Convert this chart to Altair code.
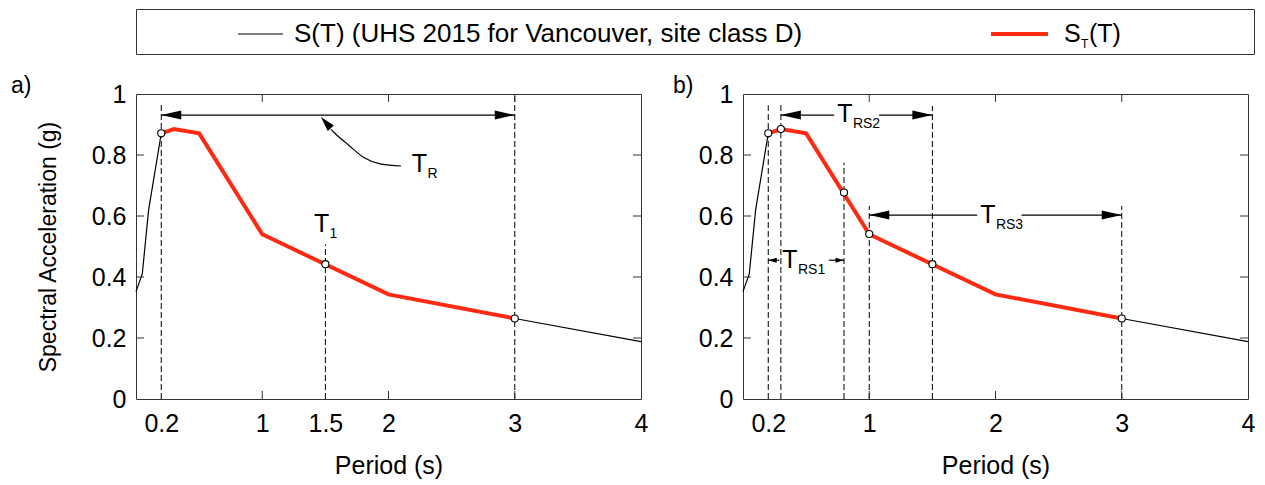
import altair as alt
import pandas as pd

# ---------------- data ----------------
uhs_T = [0.0, 0.05, 0.1, 0.2, 0.3, 0.5, 1.0, 2.0, 3.0, 4.0]
uhs_S = [0.352, 0.411, 0.620, 0.871, 0.885, 0.871, 0.540, 0.343, 0.264, 0.188]
st_T = [0.2, 0.3, 0.5, 1.0, 2.0, 3.0]
st_S = [0.871, 0.885, 0.871, 0.540, 0.343, 0.264]

a_mark_T = [0.2, 1.5, 3.0]
a_mark_S = [0.871, 0.442, 0.264]
a_dash_T = [0.2, 1.5, 3.0]
a_dash_top = [0.966, 0.507, 1.0]

b_mark_T = [0.2, 0.3, 0.8, 1.0, 1.5, 3.0]
b_mark_S = [0.871, 0.885, 0.677, 0.541, 0.442, 0.264]
b_dash_T = [0.2, 0.3, 0.8, 1.0, 1.5, 3.0]
b_dash_top = [0.963, 0.968, 0.775, 0.633, 0.961, 0.633]

a_xticks = [0.2, 1, 1.5, 2, 3, 4]
b_xticks = [0.2, 1, 2, 3, 4]
y_ticks = [0, 0.2, 0.4, 0.6, 0.8, 1]
inner_xticks = [1, 2, 3]
inner_yticks = [0.2, 0.4, 0.6, 0.8]

# arrow shafts (start, end, level)
a_seg_x = [0.2]
a_seg_x2 = [3.0]
a_seg_y = [0.931]
b_seg_x = [0.3, 1.078, 1.0, 2.206, 0.2, 0.682]
b_seg_x2 = [0.722, 1.5, 1.855, 3.0, 0.287, 0.8]
b_seg_y = [0.931, 0.931, 0.603, 0.603, 0.455, 0.455]

# arrow tips (position, pointing direction in degrees, kind)
a_head_T = [0.2, 3.0, 1.465]
a_head_S = [0.931, 0.931, 0.925]
a_head_dir = [180, 0, 229]
a_head_kind = ["big", "big", "curve"]
b_head_T = [0.3, 1.5, 1.0, 3.0, 0.2, 0.8]
b_head_S = [0.931, 0.931, 0.603, 0.603, 0.455, 0.455]
b_head_dir = [180, 0, 180, 0, 180, 0]
b_head_kind = ["big", "big", "big", "big", "small", "small"]

# curved pointer to T_R
curve_T = [1.545, 1.571, 1.677, 1.808, 1.941, 2.099]
curve_S = [0.884, 0.873, 0.835, 0.791, 0.770, 0.764]

# annotation labels: T with subscript
a_lab_T = [2.245, 1.47]
a_lab_S = [0.772, 0.574]
a_lab_sub = ["R", "1"]
b_lab_T = [0.807, 1.94, 0.372]
b_lab_S = [0.934, 0.603, 0.456]
b_lab_sub = ["RS2", "RS3", "RS1"]

legend_main = "S(T) (UHS 2015 for Vancouver, site class D)"

# ---------------- styles ----------------
W, H = 505, 305
FONT = "Liberation Sans"
RED = "#ff2a12"
FRAME = "#333333"
HEAD_STYLE = {
    "big": ("M0,0 L-2,-0.45 L-2,0.45 Z", 400),
    "small": ("M0,0 L-2,-0.6 L-2,0.6 Z", 72),
    "curve": ("M0,0 L-2,-0.55 L-2,0.55 Z", 225),
}

xs = alt.Scale(domain=[0, 4], nice=False, zero=False)
ys = alt.Scale(domain=[0, 1], nice=False, zero=False)
one = pd.DataFrame({"k": [0]})


def panel(xticks, ytitle, mark_T, mark_S, dash_T, dash_top, seg_x, seg_x2, seg_y,
          head_T, head_S, head_dir, head_kind, lab_T, lab_S, lab_sub, tag, tag_x, curve=None):
    uhs = pd.DataFrame({"T": uhs_T, "S": uhs_S})
    st = pd.DataFrame({"T": st_T, "S": st_S})
    marks = pd.DataFrame({"T": mark_T, "S": mark_S})
    dashes = pd.DataFrame({"T": dash_T, "y0": [0.0] * len(dash_T), "top": dash_top})
    segs = pd.DataFrame({"x": seg_x, "x2": seg_x2, "y": seg_y})
    heads = pd.DataFrame({
        "T": head_T, "S": head_S, "angle": head_dir,
        "shape": [HEAD_STYLE[k][0] for k in head_kind],
        "size": [HEAD_STYLE[k][1] for k in head_kind],
    })
    labs = pd.DataFrame({"T": lab_T, "S": lab_S, "sub": lab_sub})
    xt = pd.DataFrame({"v": inner_xticks})
    yt = pd.DataFrame({"v": inner_yticks})

    xaxis = alt.Axis(values=xticks, format="~g", title="Period (s)", domain=False,
                     ticks=False, tickSize=0, grid=False, labelFontSize=25, labelPadding=12,
                     labelFlush=False, labelOverlap=False, labelColor="black",
                     titleFontSize=25, titleFontWeight="normal", titleColor="black",
                     titlePadding=17, labelFont=FONT, titleFont=FONT)
    yaxis_kw = dict(values=y_ticks, format="~g", domain=False, ticks=False, tickSize=0,
                    grid=False, labelFontSize=25, labelPadding=10, labelColor="black",
                    labelOverlap=False, labelFlush=False, labelFont=FONT, titleFont=FONT)
    if ytitle:
        yaxis = alt.Axis(title=ytitle, titleFontSize=23, titleFontWeight="normal",
                         titleColor="black", titlePadding=31, **yaxis_kw)
    else:
        yaxis = alt.Axis(title=None, **yaxis_kw)
    ytit = ytitle if ytitle else None

    def X(f):
        return alt.X(f, type="quantitative", scale=xs, axis=xaxis, title="Period (s)")

    def Y(f):
        if ytit:
            return alt.Y(f, type="quantitative", scale=ys, axis=yaxis, title=ytit)
        return alt.Y(f, type="quantitative", scale=ys, axis=yaxis)

    layers = []
    # dashed verticals
    layers.append(alt.Chart(dashes).mark_rule(color="black", strokeWidth=1, strokeDash=[6, 3])
                  .encode(x=X("T"), y=Y("y0"), y2="top:Q"))
    # UHS black line
    layers.append(alt.Chart(uhs).mark_line(color="black", strokeWidth=1.2)
                  .encode(x=X("T"), y=Y("S"), order="T:Q"))
    # S_T red line
    layers.append(alt.Chart(st).mark_line(color=RED, strokeWidth=4, strokeJoin="miter")
                  .encode(x=X("T"), y=Y("S"), order="T:Q"))
    # arrow shafts
    layers.append(alt.Chart(segs).mark_rule(color="black", strokeWidth=1.2)
                  .encode(x=X("x"), x2="x2:Q", y=Y("y")))
    if curve is not None:
        cdf = pd.DataFrame({"T": curve[0], "S": curve[1]})
        layers.append(alt.Chart(cdf).mark_line(color="black", strokeWidth=1.2,
                                               interpolate="monotone")
                      .encode(x=X("T"), y=Y("S"), order="T:Q"))
    # arrow heads
    layers.append(alt.Chart(heads).mark_point(filled=True, color="black", opacity=1,
                                              strokeWidth=0)
                  .encode(x=X("T"), y=Y("S"),
                          shape=alt.Shape("shape:N", scale=None),
                          size=alt.Size("size:Q", scale=None),
                          angle=alt.Angle("angle:Q", scale=None)))
    # open circles
    layers.append(alt.Chart(marks).mark_circle(fill="white", stroke="black", strokeWidth=1.1,
                                               size=50, opacity=1)
                  .encode(x=X("T"), y=Y("S")))
    # labels
    layers.append(alt.Chart(labs).mark_text(text="T", align="center", baseline="middle",
                                            fontSize=25, font=FONT, color="black")
                  .encode(x=X("T"), y=Y("S")))
    layers.append(alt.Chart(labs).mark_text(align="left", baseline="middle", fontSize=14,
                                            font=FONT, color="black", dx=8, dy=10)
                  .encode(x=X("T"), y=Y("S"), text="sub:N"))
    # inward ticks
    tk = dict(color=FRAME, strokeWidth=1)
    layers.append(alt.Chart(xt).mark_rule(**tk).encode(x=X("v"), y=alt.value(0), y2=alt.value(8)))
    layers.append(alt.Chart(xt).mark_rule(**tk).encode(x=X("v"), y=alt.value(H - 8), y2=alt.value(H)))
    layers.append(alt.Chart(yt).mark_rule(**tk).encode(y=Y("v"), x=alt.value(0), x2=alt.value(8)))
    layers.append(alt.Chart(yt).mark_rule(**tk).encode(y=Y("v"), x=alt.value(W - 8), x2=alt.value(W)))
    # panel tag
    layers.append(alt.Chart(one).mark_text(text=tag, align="left", baseline="middle",
                                           fontSize=23, font=FONT, color="black")
                  .encode(x=alt.value(tag_x), y=alt.value(-8)))
    return alt.layer(*layers).properties(width=W, height=H)


pa = panel(a_xticks, "Spectral Acceleration (g)", a_mark_T, a_mark_S, a_dash_T, a_dash_top,
           a_seg_x, a_seg_x2, a_seg_y, a_head_T, a_head_S, a_head_dir, a_head_kind,
           a_lab_T, a_lab_S, a_lab_sub, "a)", -125, curve=(curve_T, curve_S))
pb = panel(b_xticks, None, b_mark_T, b_mark_S, b_dash_T, b_dash_top,
           b_seg_x, b_seg_x2, b_seg_y, b_head_T, b_head_S, b_head_dir, b_head_kind,
           b_lab_T, b_lab_S, b_lab_sub, "b)", -70)

# ---------------- legend box ----------------
LW, LH = 1118, 45
leg = alt.layer(
    alt.Chart(one).mark_rule(color="black", strokeWidth=1.2)
    .encode(x=alt.value(102), x2=alt.value(147), y=alt.value(25)),
    alt.Chart(one).mark_text(text=legend_main, align="left", baseline="middle",
                             fontSize=26, font=FONT, color="black")
    .encode(x=alt.value(158), y=alt.value(25)),
    alt.Chart(one).mark_rule(color=RED, strokeWidth=4)
    .encode(x=alt.value(855), x2=alt.value(912), y=alt.value(25)),
    alt.Chart(one).mark_text(text="S", align="left", baseline="middle",
                             fontSize=25, font=FONT, color="black")
    .encode(x=alt.value(928), y=alt.value(25)),
    alt.Chart(one).mark_text(text="T", align="left", baseline="middle",
                             fontSize=12, font=FONT, color="black")
    .encode(x=alt.value(945), y=alt.value(35)),
    alt.Chart(one).mark_text(text="(T)", align="left", baseline="middle",
                             fontSize=25, font=FONT, color="black")
    .encode(x=alt.value(953), y=alt.value(25)),
).properties(width=LW, height=LH)

chart = alt.vconcat(
    leg,
    alt.hconcat(pa, pb, spacing=102, bounds="flush"),
    spacing=40, bounds="flush",
).properties(
    padding={"left": 10, "top": 8, "right": 5, "bottom": 5}
).configure(font=FONT).configure_view(stroke=FRAME, strokeWidth=1)

chart.save("out.html", embed_options={"renderer": "svg", "actions": False})
